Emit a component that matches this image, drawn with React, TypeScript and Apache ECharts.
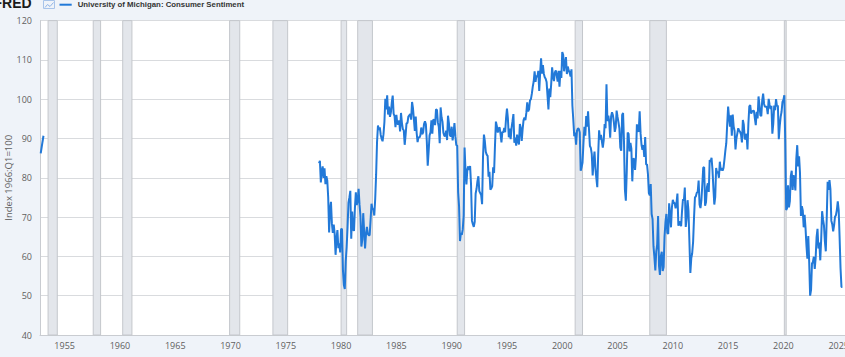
import React, { useEffect, useRef } from "react";
import * as echarts from "echarts";

// Early sparse observations
const earlyMonths = ["1952-11", "1953-02"];
const earlyValues = [86.2, 90.7];

// Monthly observations from 1978-01
const monthlyStart = "1978-01";
const v1978to1989 = [
  83.7, 84.3, 78.8, 81.6, 82.9, 80.0, 82.4, 78.4, 80.4, 79.3, 75.0, 66.1,
  72.1, 73.9, 68.4, 66.0, 68.1, 65.8, 60.4, 64.5, 66.7, 62.1, 63.3, 61.0,
  67.0, 66.9, 56.5, 52.7, 51.7, 58.7, 62.3, 67.4, 73.7, 75.0, 76.7, 64.5,
  71.4, 66.9, 66.5, 72.4, 76.3, 73.1, 74.1, 77.2, 73.1, 70.3, 62.5, 64.3,
  71.0, 66.5, 62.0, 65.5, 67.5, 65.7, 65.4, 65.4, 69.3, 73.4, 72.1, 71.9,
  70.4, 74.6, 80.8, 89.1, 93.3, 92.2, 92.8, 90.9, 89.9, 89.3, 91.1, 94.2,
  100.1, 97.4, 101.0, 96.1, 98.1, 95.5, 96.6, 99.1, 100.9, 96.3, 95.7, 92.9,
  96.0, 93.7, 93.7, 94.6, 91.8, 96.5, 94.0, 92.4, 92.1, 88.4, 90.9, 93.9,
  93.9, 95.6, 95.9, 96.2, 94.8, 99.3, 97.7, 94.9, 91.9, 95.6, 91.4, 89.1,
  90.4, 90.2, 90.8, 92.8, 91.1, 91.5, 93.7, 94.4, 93.6, 89.3, 83.1, 86.8,
  90.8, 91.6, 94.6, 91.2, 94.8, 94.7, 93.4, 97.4, 97.3, 94.1, 93.0, 88.8,
  97.9, 95.4, 94.3, 91.5, 90.7, 90.6, 92.0, 89.6, 95.8, 93.9, 90.9, 90.5,
];
const v1990to1999 = [
  93.0, 89.5, 91.3, 93.9, 90.6, 88.3, 88.2, 76.4, 72.8, 63.9, 66.0, 65.5,
  66.8, 70.4, 87.7, 81.8, 78.3, 82.1, 82.9, 82.0, 83.0, 78.3, 69.1, 68.2,
  67.5, 68.8, 76.0, 77.2, 79.2, 80.4, 76.6, 76.1, 75.6, 73.3, 85.3, 91.0,
  89.3, 86.6, 85.9, 85.6, 80.3, 81.5, 77.0, 77.3, 77.9, 82.7, 81.2, 88.2,
  94.3, 93.2, 91.5, 92.6, 92.8, 91.2, 89.0, 91.7, 91.5, 92.7, 91.6, 95.1,
  97.6, 95.1, 90.3, 92.5, 89.8, 92.7, 94.4, 96.2, 88.9, 90.2, 88.2, 91.0,
  89.3, 88.5, 93.7, 92.7, 89.4, 92.4, 94.7, 95.3, 94.7, 96.5, 99.2, 96.9,
  97.4, 99.7, 100.0, 101.4, 103.2, 104.5, 107.1, 104.4, 106.0, 105.6, 107.2, 102.1,
  106.6, 110.4, 106.5, 108.7, 106.5, 105.6, 105.2, 104.4, 100.9, 97.4, 102.7, 100.5,
  103.9, 108.1, 105.7, 104.6, 106.8, 107.3, 106.0, 104.5, 107.2, 103.2, 107.2, 105.4,
];
const v2000to2009 = [
  112.0, 111.3, 107.1, 109.2, 110.7, 106.4, 108.3, 107.3, 106.8, 105.8, 107.6, 98.4,
  94.7, 90.6, 91.5, 88.4, 92.0, 92.6, 92.4, 91.5, 81.8, 82.7, 83.9, 88.8,
  93.0, 90.7, 95.7, 93.0, 96.9, 92.4, 88.1, 87.6, 86.1, 80.6, 84.2, 86.7,
  82.4, 79.9, 77.6, 86.0, 92.1, 89.7, 90.9, 89.3, 87.7, 89.6, 93.7, 92.6,
  103.8, 94.4, 95.8, 94.2, 90.2, 95.6, 96.7, 95.9, 94.2, 91.7, 92.8, 97.1,
  95.5, 94.1, 92.6, 87.7, 86.9, 96.0, 96.5, 89.1, 76.9, 74.2, 81.6, 91.5,
  91.2, 86.7, 88.9, 87.4, 79.1, 84.9, 84.7, 82.0, 85.4, 93.6, 92.1, 91.7,
  96.9, 91.3, 88.4, 87.1, 88.3, 85.3, 90.4, 83.4, 83.4, 80.9, 76.1, 75.5,
  78.4, 70.8, 69.5, 62.6, 59.8, 56.4, 61.2, 63.0, 70.3, 57.6, 55.3, 60.1,
  61.2, 56.3, 57.3, 65.1, 68.7, 70.8, 66.0, 65.7, 73.5, 70.6, 67.4, 72.5,
];
const v2010to2019 = [
  74.4, 73.6, 73.6, 72.2, 73.6, 76.0, 67.8, 68.9, 68.2, 67.7, 71.6, 74.5,
  74.2, 77.5, 67.5, 69.8, 74.3, 71.5, 63.7, 55.8, 59.5, 60.8, 63.7, 69.9,
  75.0, 75.3, 76.2, 76.4, 79.3, 73.2, 72.3, 74.3, 78.3, 82.6, 82.7, 72.9,
  73.8, 77.6, 78.6, 76.4, 84.5, 84.1, 85.1, 82.1, 77.5, 73.2, 75.1, 82.5,
  81.2, 81.6, 80.0, 84.1, 81.9, 82.5, 81.8, 82.5, 84.6, 86.9, 88.8, 93.6,
  98.1, 95.4, 93.0, 95.9, 90.7, 96.1, 93.1, 91.9, 87.2, 90.0, 91.3, 92.6,
  92.0, 91.7, 91.0, 89.0, 94.7, 93.5, 90.0, 89.8, 91.2, 87.2, 93.8, 98.2,
  98.5, 96.3, 96.9, 97.0, 97.1, 95.1, 93.4, 96.8, 95.1, 100.7, 98.5, 95.9,
  95.7, 99.7, 101.4, 98.8, 98.0, 98.2, 97.9, 96.2, 100.1, 98.6, 97.5, 98.3,
  91.2, 93.8, 98.4, 97.2, 100.0, 98.2, 98.4, 89.8, 93.2, 95.5, 96.8, 99.3,
];
const v2020to2025 = [
  99.8, 101.0, 89.1, 71.8, 72.3, 78.1, 72.5, 74.1, 80.4, 81.8, 76.9, 80.7,
  79.0, 76.8, 84.9, 88.3, 82.9, 85.5, 81.2, 70.3, 72.8, 71.7, 67.4, 70.6,
  67.2, 62.8, 59.4, 65.2, 58.4, 50.0, 51.5, 58.2, 58.6, 59.9, 56.8, 59.7,
  64.9, 67.0, 62.0, 63.5, 59.0, 64.4, 71.5, 69.4, 67.9, 63.8, 61.3, 69.7,
  79.0, 76.9, 79.4, 77.2, 69.1, 68.2, 66.4, 67.9, 70.1, 70.5, 71.8, 74.0,
  71.7, 64.7, 57.0, 52.2, 52.2,
];

// NBER recessions (peak month, trough month)
const recessionStarts = ["1953-07", "1957-08", "1960-04", "1969-12", "1973-11", "1980-01", "1981-07", "1990-07", "2001-03", "2007-12", "2020-02"];
const recessionEnds = ["1954-05", "1958-04", "1961-02", "1970-11", "1975-03", "1980-07", "1982-11", "1991-03", "2001-11", "2009-06", "2020-04"];

const xTickLabels = [1955, 1960, 1965, 1970, 1975, 1980, 1985, 1990, 1995, 2000, 2005, 2010, 2015, 2020, 2025];
const yTickLabels = [40, 50, 60, 70, 80, 90, 100, 110, 120];

const seriesName = "University of Michigan: Consumer Sentiment";
const yAxisTitle = "Index 1966:Q1=100";

function toYear(s: string): number {
  const [y, m] = s.split("-").map(Number);
  return y + (m - 1) / 12;
}

export default function App() {
  const ref = useRef<HTMLDivElement>(null);

  useEffect(() => {
    if (!ref.current) return;
    const chart = echarts.init(ref.current, undefined, { renderer: "svg" });

    const monthly = [...v1978to1989, ...v1990to1999, ...v2000to2009, ...v2010to2019, ...v2020to2025];
    const start = toYear(monthlyStart);
    const mainData = monthly.map((v, i) => [start + i / 12, v]);
    const earlyData = earlyMonths.map((m, i) => [toYear(m), earlyValues[i]]);
    const areas = recessionStarts.map((s, i) => [{ xAxis: toYear(s) }, { xAxis: toYear(recessionEnds[i]) }]);

    const lineColor = "#2279d8";
    const textGray = "#5f5f5f";

    chart.setOption({
      animation: false,
      backgroundColor: "#eff3f9",
      textStyle: { fontFamily: "Open Sans, Arial, sans-serif" },
      grid: {
        left: 40,
        right: 0,
        top: 20.6,
        bottom: 22,
        show: true,
        backgroundColor: "#ffffff",
        borderWidth: 0,
        containLabel: false,
        outerBoundsMode: "none",
      },
      xAxis: {
        type: "value",
        min: 1952.77,
        max: 2025.57,
        axisLine: { show: true, lineStyle: { color: "#c9ccd1", width: 1 } },
        axisTick: { show: false },
        splitLine: { show: false },
        axisLabel: {
          customValues: xTickLabels,
          formatter: (v: number) => String(Math.round(v)),
          color: textGray,
          fontSize: 9,
          margin: 6,
          hideOverlap: false,
          showMinLabel: true,
          showMaxLabel: true,
        },
      },
      yAxis: {
        type: "value",
        min: yTickLabels[0],
        max: yTickLabels[yTickLabels.length - 1],
        interval: 10,
        name: yAxisTitle,
        nameLocation: "middle",
        nameGap: 27,
        nameMoveOverlap: false,
        nameTextStyle: { color: textGray, fontSize: 9.5 },
        axisLine: { show: true, lineStyle: { color: "#c9ccd1", width: 1 } },
        axisTick: { show: false },
        splitLine: { show: true, lineStyle: { color: "#d9dbde", width: 1 } },
        axisLabel: { color: textGray, fontSize: 9, margin: 8 },
      },
      series: [
        {
          type: "line",
          name: seriesName + " early",
          data: earlyData,
          showSymbol: false,
          lineStyle: { color: lineColor, width: 2 },
          itemStyle: { color: lineColor },
          z: 3,
        },
        {
          type: "line",
          name: seriesName,
          data: mainData,
          showSymbol: false,
          lineStyle: { color: lineColor, width: 2 },
          itemStyle: { color: lineColor },
          z: 3,
          markArea: {
            silent: true,
            itemStyle: { color: "#e3e6eb", borderColor: "#c4c7cc", borderWidth: 1 },
            data: areas,
          },
        },
      ],
      graphic: [
        {
          type: "text",
          x: -6.5,
          y: -4,
          style: { text: "FRED", font: "900 14px Arial, 'Liberation Sans', sans-serif", fill: "#1b1b1b", textVerticalAlign: "top" },
        },
        {
          type: "rect",
          shape: { x: 43.5, y: 0.5, width: 11, height: 8 },
          style: { fill: "none", stroke: "#a8c4ea", lineWidth: 1 },
        },
        {
          type: "polyline",
          shape: { points: [[45, 7.5], [47.5, 4.5], [50, 6.5], [53.5, 2.5]] },
          style: { fill: "none", stroke: "#8fb3e6", lineWidth: 1 },
        },
        {
          type: "line",
          shape: { x1: 59.5, y1: 4.7, x2: 71.7, y2: 4.7 },
          style: { stroke: lineColor, lineWidth: 2 },
        },
        {
          type: "text",
          x: 77.7,
          y: 4.7,
          style: { text: seriesName, font: "bold 7.8px Arial, 'Liberation Sans', sans-serif", fill: "#333333", textVerticalAlign: "middle" },
        },
      ],
    });

    return () => chart.dispose();
  }, []);

  return <div ref={ref} style={{ position: "fixed", left: 0, top: 0, width: 845, height: 357 }} />;
}
